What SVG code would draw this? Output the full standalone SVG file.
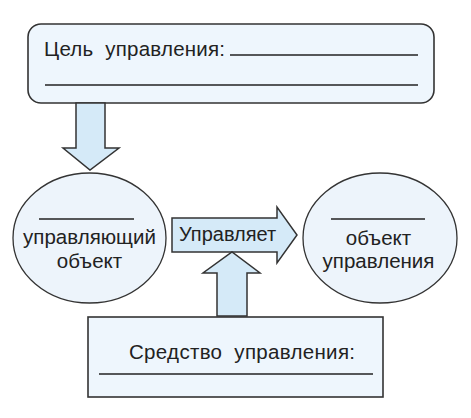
<svg xmlns="http://www.w3.org/2000/svg" width="471" height="418" viewBox="0 0 471 418">
<style>
.box{fill:#eef6fd;stroke:#333;stroke-width:1.6}
.ell{fill:#edf4fb;stroke:#333;stroke-width:1.3}
.arr{fill:#d5eaf8;stroke:#333;stroke-width:1.5;stroke-linejoin:miter}
.ln{stroke:#222;stroke-width:1.3}
text{font-family:"Liberation Sans",Arial,sans-serif;font-size:20.5px;fill:#222}
</style>
<rect width="471" height="418" fill="#fff"/>
<g id="goal">
<rect class="box" x="28" y="24" width="406" height="79" rx="13"/>
<text x="44" y="56" xml:space="preserve" textLength="181">Цель  управления:</text>
<line class="ln" x1="230" y1="55" x2="418" y2="55"/>
<line class="ln" x1="45" y1="85" x2="418" y2="85"/>
</g>
<g id="connectors">
<polygon class="arr" points="76,103 105,103 105,148 119,148 90,170 63,148 76,148"/>
<polygon class="arr" points="172,218 277,218 277,207 297,235 277,263 277,252 172,252"/>
<polygon class="arr" points="217,316 217,273 203,273 232,252 260,273 247,273 247,316"/>
<text x="179" y="241" style="font-size:20px">Управляет</text>
</g>
<g id="subject">
<ellipse class="ell" cx="89.5" cy="238" rx="76.5" ry="65"/>
<line class="ln" x1="39" y1="219" x2="134" y2="219"/>
<text x="89.5" y="244" text-anchor="middle">управляющий</text>
<text x="89.5" y="268" text-anchor="middle">объект</text>
</g>
<g id="object">
<ellipse class="ell" cx="380" cy="238" rx="77" ry="65"/>
<line class="ln" x1="331" y1="219" x2="425" y2="219"/>
<text x="378.5" y="245" text-anchor="middle">объект</text>
<text x="378.5" y="268" text-anchor="middle">управления</text>
</g>
<g id="means">
<rect class="box" x="88" y="317" width="295" height="80"/>
<text x="129" y="359" xml:space="preserve" textLength="226">Средство  управления:</text>
<line class="ln" x1="99" y1="374" x2="373" y2="374"/>
</g>
</svg>
